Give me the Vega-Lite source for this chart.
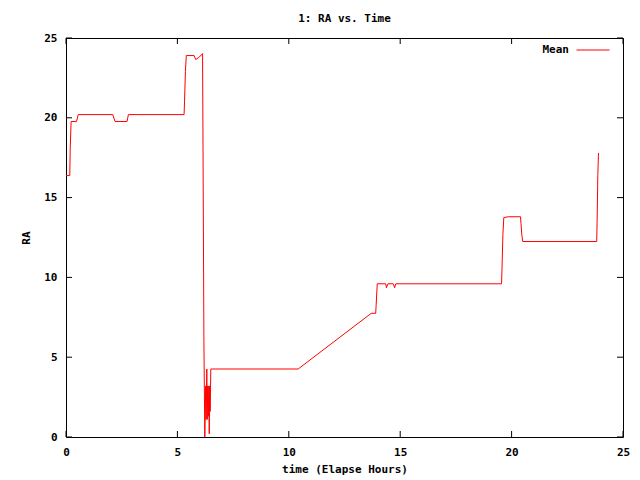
{
  "$schema": "https://vega.github.io/schema/vega-lite/v6.json",
  "width": 557,
  "height": 399,
  "autosize": {"type": "none"},
  "padding": {"left": 66, "top": 38, "right": 17, "bottom": 43},
  "background": "white",
  "title": {"text": "1: RA vs. Time", "font": "DejaVu Sans Mono", "fontSize": 11, "fontWeight": "bold", "color": "black", "offset": 8, "anchor": "middle"},
  "config": {
    "view": {"stroke": "black", "strokeWidth": 1},
    "axis": {
      "domain": false, "grid": false, "ticks": false, "labelFlush": false,
      "labelFont": "DejaVu Sans Mono", "labelFontSize": 11, "labelFontWeight": "bold", "labelColor": "black",
      "titleFont": "DejaVu Sans Mono", "titleFontSize": 11, "titleFontWeight": "bold", "titleColor": "black"
    },
    "legend": {"labelFont": "DejaVu Sans Mono", "labelFontSize": 11, "labelFontWeight": "bold", "labelColor": "black"}
  },
  "datasets": {
    "ticks": [{"v": 0}, {"v": 5}, {"v": 10}, {"v": 15}, {"v": 20}, {"v": 25}],
    "ra": [
    {"i": 0, "t": 0.0, "ra": 16.38},
    {"i": 1, "t": 0.17, "ra": 16.38},
    {"i": 2, "t": 0.19, "ra": 18.1},
    {"i": 3, "t": 0.23, "ra": 19.77},
    {"i": 4, "t": 0.47, "ra": 19.77},
    {"i": 5, "t": 0.55, "ra": 20.2},
    {"i": 6, "t": 2.1, "ra": 20.2},
    {"i": 7, "t": 2.2, "ra": 19.77},
    {"i": 8, "t": 2.74, "ra": 19.77},
    {"i": 9, "t": 2.8, "ra": 20.2},
    {"i": 10, "t": 5.3, "ra": 20.2},
    {"i": 11, "t": 5.32, "ra": 21.0},
    {"i": 12, "t": 5.36, "ra": 22.9},
    {"i": 13, "t": 5.4, "ra": 23.9},
    {"i": 14, "t": 5.75, "ra": 23.9},
    {"i": 15, "t": 5.82, "ra": 23.65},
    {"i": 16, "t": 5.98, "ra": 23.8},
    {"i": 17, "t": 6.13, "ra": 24.02},
    {"i": 18, "t": 6.15, "ra": 18.1},
    {"i": 19, "t": 6.19, "ra": 6.0},
    {"i": 20, "t": 6.23, "ra": 0.0},
    {"i": 21, "t": 6.27, "ra": 3.2},
    {"i": 22, "t": 6.29, "ra": 1.1},
    {"i": 23, "t": 6.32, "ra": 4.26},
    {"i": 24, "t": 6.34, "ra": 1.1},
    {"i": 25, "t": 6.36, "ra": 3.2},
    {"i": 26, "t": 6.39, "ra": 1.3},
    {"i": 27, "t": 6.41, "ra": 3.2},
    {"i": 28, "t": 6.43, "ra": 0.2},
    {"i": 29, "t": 6.45, "ra": 3.2},
    {"i": 30, "t": 6.47, "ra": 1.6},
    {"i": 31, "t": 6.5, "ra": 4.26},
    {"i": 32, "t": 10.42, "ra": 4.26},
    {"i": 33, "t": 13.7, "ra": 7.75},
    {"i": 34, "t": 13.9, "ra": 7.75},
    {"i": 35, "t": 13.92, "ra": 8.25},
    {"i": 36, "t": 13.97, "ra": 9.6},
    {"i": 37, "t": 14.35, "ra": 9.6},
    {"i": 38, "t": 14.38, "ra": 9.35},
    {"i": 39, "t": 14.45, "ra": 9.6},
    {"i": 40, "t": 14.69, "ra": 9.6},
    {"i": 41, "t": 14.75, "ra": 9.35},
    {"i": 42, "t": 14.8, "ra": 9.6},
    {"i": 43, "t": 19.55, "ra": 9.6},
    {"i": 44, "t": 19.57, "ra": 10.6},
    {"i": 45, "t": 19.61, "ra": 12.7},
    {"i": 46, "t": 19.65, "ra": 13.75},
    {"i": 47, "t": 19.86, "ra": 13.8},
    {"i": 48, "t": 20.4, "ra": 13.8},
    {"i": 49, "t": 20.42, "ra": 13.4},
    {"i": 50, "t": 20.46, "ra": 12.65},
    {"i": 51, "t": 20.5, "ra": 12.25},
    {"i": 52, "t": 23.82, "ra": 12.25},
    {"i": 53, "t": 23.84, "ra": 13.65},
    {"i": 54, "t": 23.87, "ra": 16.4},
    {"i": 55, "t": 23.9, "ra": 17.8}
  ]},
  "layer": [
    {
      "data": {"name": "ra"},
      "mark": {"type": "line", "strokeWidth": 1, "interpolate": "linear"},
      "encoding": {
        "x": {"field": "t", "type": "quantitative", "scale": {"domain": [0, 25], "nice": false, "zero": false},
              "axis": {"values": [0, 5, 10, 15, 20, 25], "title": "time (Elapse Hours)", "labelPadding": 9, "titlePadding": 6}},
        "y": {"field": "ra", "type": "quantitative", "scale": {"domain": [0, 25], "nice": false},
              "axis": {"values": [0, 5, 10, 15, 20, 25], "title": "RA", "labelPadding": 9, "titlePadding": 12}},
        "order": {"field": "i"},
        "color": {"datum": "Mean", "scale": {"range": ["#ff0000"]},
                  "legend": {"title": null, "orient": "none", "legendX": 510, "legendY": -5, "padding": 0,
                             "symbolType": "stroke", "symbolSize": 1089, "symbolStrokeWidth": 1,
                             "labelAlign": "right", "labelOffset": -41}}
      }
    },
    {
      "data": {"name": "ticks"},
      "mark": {"type": "rule", "color": "black", "strokeWidth": 1},
      "encoding": {"x": {"field": "v", "type": "quantitative"}, "y": {"datum": 0}, "y2": {"datum": 0.376}}
    },
    {
      "data": {"name": "ticks"},
      "mark": {"type": "rule", "color": "black", "strokeWidth": 1},
      "encoding": {"x": {"field": "v", "type": "quantitative"}, "y": {"datum": 25}, "y2": {"datum": 24.624}}
    },
    {
      "data": {"name": "ticks"},
      "mark": {"type": "rule", "color": "black", "strokeWidth": 1},
      "encoding": {"y": {"field": "v", "type": "quantitative"}, "x": {"datum": 0}, "x2": {"datum": 0.27}}
    },
    {
      "data": {"name": "ticks"},
      "mark": {"type": "rule", "color": "black", "strokeWidth": 1},
      "encoding": {"y": {"field": "v", "type": "quantitative"}, "x": {"datum": 25}, "x2": {"datum": 24.73}}
    }
  ]
}
